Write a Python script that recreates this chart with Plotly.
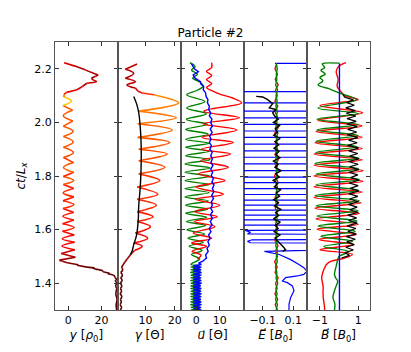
import numpy as np
import plotly.graph_objects as go
from plotly.subplots import make_subplots

# ---- panel 1: y position [rho0] vs ct/Lx
Y_T = [1.300, 1.320, 1.340, 1.360, 1.380, 1.390, 1.400, 1.410, 1.414, 1.420, 1.427, 1.435, 1.437, 1.443,
       1.447, 1.455, 1.457, 1.460, 1.467, 1.469, 1.476, 1.482, 1.486,
       1.497, 1.511, 1.525, 1.539, 1.553, 1.566, 1.580, 1.594, 1.608, 1.622, 1.636, 1.650, 1.664, 1.679,
       1.694, 1.708, 1.722, 1.737, 1.753, 1.768, 1.783, 1.798, 1.814, 1.832, 1.850, 1.869, 1.888, 1.907,
       1.927, 1.947, 1.967, 1.986, 2.005, 2.025, 2.045, 2.063, 2.080, 2.095,
       2.105, 2.112, 2.122, 2.134, 2.146, 2.152, 2.158, 2.165, 2.172, 2.177, 2.185, 2.196, 2.210, 2.223]
Y_POS = [29.2, 28.9, 29.4, 28.7, 29.3, 28.6, 29.5, 28.4, 29.6, 28.2, 27.9, 23.9, 24.8, 21.0,
         20.5, 15.1, 15.8, 11.2, 5.3, 6.0, -0.6, -3.5, -5.3,
         4.3, -4.2, 4.0, -3.8, 3.8, -3.6, 3.6, -3.5, 3.5, -3.4, 3.4, -3.3, 3.3, -3.2,
         3.4, -3.2, 3.4, -3.1, 3.3, -3.0, 3.3, -3.0, 3.3, -2.9, 3.2, -2.9, 3.1, -2.9,
         3.0, -2.9, 3.0, -3.0, 2.8, -3.0, 2.6, -3.2, 2.0, -2.6,
         -2.5, -1.0, 5.3, 8.5, 11.2, 17.0, 15.0, 14.0, 16.5, 18.0, 14.5, 10.2, 4.0, -2.5]

# ---- panel 2: gamma [Theta]
G_T = [1.300, 1.310, 1.320, 1.330, 1.340, 1.350, 1.360, 1.370, 1.380, 1.390, 1.400, 1.410, 1.420,
       1.430, 1.440, 1.450, 1.460, 1.468,
       1.478, 1.490, 1.507, 1.522, 1.538, 1.550, 1.568, 1.587, 1.611, 1.630, 1.648, 1.667, 1.691,
       1.713, 1.732, 1.759, 1.783, 1.808, 1.833, 1.857, 1.882, 1.900, 1.925, 1.944, 1.972, 1.995,
       2.017, 2.042, 2.073, 2.091, 2.103, 2.110, 2.116,
       2.128, 2.140, 2.152, 2.165, 2.183, 2.198, 2.218]
GAMMA = [1.5, 1.9, 1.4, 1.8, 1.5, 2.0, 1.4, 1.9, 1.5, 2.0, 1.4, 2.1, 1.6,
         2.2, 1.6, 2.3, 1.9, 2.4,
         3.0, 3.8, 5.0, 6.3, 8.9, 6.05, 10.8, 6.6, 11.7, 7.2, 12.6, 7.2, 13.7,
         7.2, 14.2, 7.2, 14.9, 7.75, 16.6, 7.75, 17.4, 7.75, 18.3, 7.4, 19.1, 7.4,
         20.5, 7.75, 21.35, 17.4, 12.9, 8.9, 7.5,
         6.6, 3.75, 6.6, 3.2, 6.05, 3.2, 7.2]
GAVG_T = [1.507, 1.520, 1.544, 1.570, 1.593, 1.640, 1.691, 1.750, 1.814, 1.880, 1.937, 1.990, 2.036, 2.070, 2.097]
GAVG = [4.9, 5.5, 6.05, 6.8, 7.2, 7.6, 7.75, 8.2, 8.5, 8.6, 8.5, 8.2, 7.75, 7.0, 6.05]

# ---- panel 3: four-velocity components [Theta]
DENSE_T = [1.300, 1.305, 1.310, 1.315, 1.320, 1.325, 1.330, 1.335, 1.340, 1.345, 1.350, 1.355,
           1.360, 1.365, 1.370, 1.375, 1.380, 1.385, 1.390, 1.395, 1.400, 1.405, 1.410, 1.415,
           1.420, 1.425, 1.430, 1.435, 1.440, 1.445, 1.450, 1.455, 1.460, 1.465, 1.470]
UX_T = [1.490, 1.505, 1.519, 1.538, 1.550, 1.568, 1.587, 1.611, 1.630, 1.648, 1.667, 1.691, 1.713,
        1.732, 1.759, 1.783, 1.808, 1.833, 1.857, 1.882, 1.900, 1.925, 1.944, 1.972, 1.995, 2.017,
        2.042, 2.073, 2.091, 2.103, 2.116, 2.130, 2.145, 2.160, 2.175, 2.190, 2.205, 2.223]
UX = [0.5, 2.0, -1.8, 4.4, -2.0, 6.6, -1.3, 8.0, -0.8, 9.0, -0.6, 10.1, -0.3,
      11.6, 0.0, 12.3, 1.0, 13.7, 2.0, 14.7, 2.3, 15.8, 2.6, 17.3, 3.0, 18.4,
      3.3, 19.4, 15.5, 11.0, 7.3, 4.4, 6.6, 4.4, 6.6, 4.4, 6.6, 6.6]
UY_T = DENSE_T + [1.490, 1.507, 1.522, 1.538, 1.553, 1.568, 1.584, 1.599, 1.615, 1.630, 1.646, 1.661,
                  1.676, 1.691, 1.707, 1.722, 1.738, 1.753, 1.768, 1.783, 1.799, 1.814, 1.830, 1.845,
                  1.861, 1.876, 1.892, 1.907, 1.922, 1.937, 1.956, 1.974, 1.993, 2.011, 2.032, 2.054,
                  2.078, 2.103, 2.120, 2.135, 2.150, 2.165, 2.180, 2.195, 2.208, 2.223]
UY = [-2.3, 1.5, -2.2, 1.4, -2.4, 1.5, -2.3, 1.6, -2.2, 1.4, -2.4, 1.5, -2.3, 1.5, -2.2, 1.6,
      -2.4, 1.4, -2.3, 1.5, -2.2, 1.6, -2.4, 1.5, -2.3, 1.4, -2.2, 1.5, -2.4, 1.6, -2.3, 1.5,
      -2.2, 1.4, -2.3,
      1.5, -2.0, 2.5, -3.0, 3.0, -3.5, 3.5, -4.0, 4.0, -4.2, 4.4, -4.5,
      4.8, -4.5, 5.1, -4.8, 5.5, -4.8, 5.5, -4.8, 5.9, -4.8, 5.9, -4.8,
      5.9, -4.5, 5.5, -4.5, 5.5, -4.5, 5.1, -4.5, 4.8, -4.2, 4.4, -4.1,
      3.7, -4.1, 0.5, 3.0, 1.6, -1.5, 0.5, -2.0, -0.5, -2.7]
UZ_T = DENSE_T + [1.475, 1.482, 1.494, 1.505, 1.519, 1.530, 1.542, 1.555, 1.568, 1.580, 1.592, 1.605,
                  1.618, 1.630, 1.642, 1.655, 1.668, 1.680, 1.691, 1.703, 1.716, 1.728, 1.741, 1.753,
                  1.766, 1.778, 1.790, 1.802, 1.814, 1.826, 1.839, 1.851, 1.864, 1.876, 1.888, 1.900,
                  1.913, 1.925, 1.937, 1.950, 1.962, 1.975, 1.987, 1.999, 2.012, 2.024, 2.036, 2.048,
                  2.061, 2.073, 2.085, 2.097, 2.110, 2.122, 2.134, 2.143, 2.152, 2.165, 2.177, 2.189,
                  2.200, 2.208, 2.218]
UZ = [2.2, -1.2, 2.1, -1.3, 2.3, -1.1, 2.2, -1.2, 2.0, -1.3, 2.2, -1.1, 2.3, -1.2, 2.1, -1.2,
      2.2, -1.3, 2.0, -1.1, 2.3, -1.2, 2.2, -1.3, 2.1, -1.1, 2.2, -1.2, 2.3, -1.2, 2.1, -1.3,
      2.2, -1.1, 2.2,
      1.0, 2.8, 4.4, 4.0, 5.1, 4.6, 5.6, 5.0, 5.9, 5.3, 6.3, 5.6,
      6.8, 6.0, 6.9, 6.1, 7.0, 6.2, 6.9, 6.4, 7.4, 6.6, 7.5, 6.9,
      7.6, 6.7, 7.3, 6.4, 7.0, 6.2, 7.1, 6.3, 6.9, 6.2, 6.8, 5.8,
      6.5, 5.6, 6.3, 5.7, 6.8, 6.0, 6.9, 6.2, 6.7, 5.6, 6.2, 5.3,
      5.6, 4.8, 5.0, 4.2, 4.0, 3.0, 3.2, 2.0, 1.8, -0.5, -1.3, 0.9,
      -0.8, -1.3, -2.0]

# ---- panel 4: electric field [B0]
E_T = [1.30, 1.32, 1.34, 1.36, 1.38, 1.40, 1.42, 1.44, 1.46, 1.48, 1.50, 1.52, 1.54, 1.56, 1.58, 1.60,
       1.62, 1.64, 1.66, 1.68, 1.70, 1.72, 1.74, 1.76, 1.78, 1.80, 1.82, 1.84, 1.86, 1.88, 1.90, 1.92,
       1.94, 1.96, 1.98, 2.00, 2.02, 2.04, 2.06, 2.08, 2.10, 2.12, 2.14, 2.16, 2.18, 2.20, 2.22]
EX = [-0.004, -0.018, -0.002, -0.02, -0.006, -0.016, 0.001, -0.019, -0.005, -0.022,
      -0.003, -0.017, 0.0, -0.02, -0.007, -0.015, -0.001, -0.021, -0.004, -0.018,
      0.002, -0.019, -0.006, -0.016, -0.002, -0.022, -0.005, -0.017, 0.001, -0.02,
      -0.003, -0.018, -0.006, -0.021, 0.0, -0.016, -0.004, -0.019, -0.002, -0.02,
      -0.005, -0.017, 0.001, -0.018, -0.004, -0.02, -0.008]
EY = [-0.012, -0.004, -0.016, -0.006, -0.014, -0.002, -0.013, -0.007, -0.017, -0.005,
      -0.011, -0.003, -0.015, -0.008, -0.012, -0.004, -0.016, -0.006, -0.013, -0.002,
      -0.014, -0.007, -0.011, -0.004, -0.017, -0.006, -0.012, -0.003, -0.015, -0.008,
      -0.013, -0.005, -0.011, -0.002, -0.016, -0.007, -0.012, -0.004, -0.014, -0.006,
      -0.013, -0.003, -0.015, -0.008, -0.011, -0.005, -0.012]
EZ_T = [1.300, 1.322, 1.347, 1.372, 1.390, 1.402, 1.408, 1.421, 1.427, 1.433, 1.445, 1.458, 1.470,
        1.488, 1.507, 1.519, 1.533, 1.548, 1.551, 1.556, 1.562, 1.565, 1.580, 1.584, 1.590, 1.597,
        1.599, 1.617, 1.617, 1.636, 1.636, 1.654, 1.654, 1.673, 1.673, 1.691, 1.691, 1.710, 1.710,
        1.731, 1.731, 1.753, 1.753, 1.775, 1.775, 1.796, 1.796, 1.820, 1.820, 1.845, 1.845, 1.870,
        1.870, 1.894, 1.894, 1.919, 1.919, 1.944, 1.944, 1.968, 1.968, 1.993, 1.993, 2.017, 2.017,
        2.042, 2.042, 2.073, 2.073, 2.115, 2.115, 2.220, 2.220]
EZ = [0.072, 0.072, 0.083, 0.105, 0.094, 0.061, 0.029, 0.050, 0.126, 0.169, 0.19, 0.169, 0.137,
      0.083, 0.008, -0.089, 1, 1, -0.18, -0.20, -0.17, 1, 1, -0.20, -0.18, -0.215,
      1, 1, -1, -1, 1, 1, -1, -1, 1, 1, -1,
      -1, 1, 1, -1, -1, 1, 1, -1, -1, 1, 1, -1,
      -1, 1, 1, -1, -1, 1, 1, -1, -1, 1, 1, -1,
      -1, 1, 1, -1, -1, 1, 1, -1, -1, 1, 1, -0.02]
EK_T = [1.519, 1.525, 1.535, 1.544, 1.556, 1.568, 1.580, 1.592, 1.604, 1.616, 1.628, 1.640, 1.652,
        1.664, 1.676, 1.688, 1.700, 1.712, 1.724, 1.736, 1.748, 1.760, 1.772, 1.784, 1.796, 1.808,
        1.820, 1.832, 1.844, 1.856, 1.868, 1.880, 1.892, 1.904, 1.916, 1.928, 1.940, 1.952, 1.964,
        1.976, 1.988, 2.000, 2.012, 2.024, 2.036, 2.048, 2.054, 2.070, 2.085, 2.095, 2.097]
EK = [0.03, 0.05, 0.035, 0.02,
      0.005, -0.02, 0.012, -0.025, 0.0, -0.018, 0.015, -0.03, 0.004, -0.015,
      0.018, -0.022, 0.002, -0.028, 0.01, -0.012, 0.016, -0.024, -0.002, -0.032,
      0.008, -0.016, 0.02, -0.02, 0.0, -0.03, 0.012, -0.014, 0.006, -0.026,
      0.004, -0.02, 0.014, -0.028, -0.004, -0.018, 0.01, -0.03, 0.002, -0.022,
      -0.035, -0.014, -0.057, -0.035, -0.068, -0.10, -0.143]

# ---- panel 5: magnetic field [B0]
BX_T = [1.300, 1.322, 1.347, 1.372, 1.384, 1.405, 1.421, 1.433, 1.445, 1.458, 1.470, 1.482, 1.494,
        1.508, 1.525, 1.544, 1.563, 1.582, 1.601, 1.620, 1.640, 1.660, 1.680, 1.700, 1.720, 1.740,
        1.760, 1.780, 1.800, 1.820, 1.840, 1.861, 1.882, 1.903, 1.924, 1.945, 1.966, 1.987, 2.008,
        2.036, 2.063, 2.085, 2.100, 2.115, 2.135, 2.160, 2.190, 2.210, 2.223]
BX = [-0.75, -0.78, -0.83, -0.84, -0.83, -0.88, -0.91, -0.88, -0.83, -0.75, -0.66, -0.41, 0.3,
      0.7, -1.0, 0.75, -1.05, 0.9, -1.15, 1.0, -1.2, 1.05, -1.25, 1.15, -1.3, 1.2,
      -1.3, 1.25, -1.3, 1.25, -1.3, 1.2, -1.3, 1.2, -1.25, 1.2, -1.2, 1.2, -1.1,
      1.23, -1.0, 1.0, 0.3, 0.1, -0.1, -0.05, -0.15, 0.0, 0.36]
BY_T = [1.300, 1.322, 1.347, 1.372, 1.390, 1.408, 1.420, 1.433, 1.450, 1.464, 1.488, 1.500, 1.518,
        1.537, 1.556, 1.575, 1.594, 1.613, 1.632, 1.651, 1.670, 1.689, 1.708, 1.727, 1.747, 1.767,
        1.787, 1.807, 1.827, 1.847, 1.867, 1.888, 1.909, 1.930, 1.951, 1.972, 1.992, 2.012, 2.033,
        2.054, 2.085, 2.110, 2.125, 2.140, 2.155, 2.168, 2.180, 2.195, 2.205, 2.218, 2.221]
BY = [-0.24, -0.22, -0.32, -0.24, -0.15, -0.07, -0.18, -0.24, -0.2, -0.15, -0.07, 0.0, 0.5,
      -0.8, 0.7, -0.95, 0.85, -1.1, 0.95, -1.15, 1.0, -1.2, 1.05, -1.25, 1.0, -1.2,
      1.05, -1.2, 1.0, -1.25, 1.0, -1.2, 0.95, -1.2, 1.0, -1.15, 1.0, -1.15, 1.0,
      -1.1, 0.9, 0.0, -0.5, -1.1, -0.85, -1.0, -0.72, -0.95, -0.75, -0.88, 0.02]
BZ_T = [1.300, 2.220]
BZ = [0.02, 0.02]
BK_T = [1.494, 1.504, 1.514, 1.524, 1.534, 1.544, 1.554, 1.564, 1.574, 1.584, 1.594, 1.604, 1.614,
        1.624, 1.634, 1.644, 1.654, 1.664, 1.674, 1.684, 1.694, 1.704, 1.714, 1.724, 1.734, 1.744,
        1.754, 1.764, 1.774, 1.784, 1.794, 1.804, 1.814, 1.824, 1.834, 1.844, 1.854, 1.864, 1.874,
        1.884, 1.894, 1.904, 1.914, 1.924, 1.934, 1.944, 1.954, 1.964, 1.974, 1.984, 1.994, 2.004,
        2.014, 2.024, 2.034, 2.044, 2.054, 2.064, 2.074, 2.084, 2.094, 2.104]
BK = [0.13, 0.55, 0.3, 0.75, 0.35, 0.8, 0.4, 0.85, 0.38, 0.9, 0.45, 0.88, 0.42,
      0.95, 0.5, 0.92, 0.45, 1.0, 0.55, 0.95, 0.48, 1.02, 0.55, 0.98, 0.5, 1.05,
      0.58, 1.0, 0.52, 1.05, 0.6, 0.98, 0.5, 1.03, 0.55, 1.0, 0.48, 1.05, 0.55,
      0.98, 0.5, 1.02, 0.45, 0.95, 0.5, 0.98, 0.42, 0.92, 0.45, 0.95, 0.4, 0.9,
      0.42, 0.88, 0.38, 0.85, 0.35, 0.8, 0.4, 0.75, 0.3, 0.2]

# colormap used for gamma colouring (dark red -> red -> orange -> yellow)
CM_G = [1.0, 3.0, 6.0, 9.0, 12.0, 15.0, 18.0, 21.0]
CM_R = [74, 139, 210, 255, 255, 255, 255, 255]
CM_GR = [0, 0, 0, 10, 70, 140, 205, 250]


def gcolor(g):
    return 'rgb(%d,%d,0)' % (np.interp(g, CM_G, CM_R), np.interp(g, CM_G, CM_GR))


def add_colored(fig, t, v, g, col):
    # segments sharing the same upper gamma value are drawn as one smooth run
    key = [round(max(g[i], g[i + 1]), 1) for i in range(len(t) - 1)]
    i0 = 0
    for i in range(1, len(key) + 1):
        if i == len(key) or key[i] != key[i0]:
            gs = g[i0:i + 1]
            c = gcolor(0.5 * (max(gs) + min(gs)))
            fig.add_trace(go.Scatter(x=v[i0:i + 1], y=t[i0:i + 1], mode='lines',
                                     line=dict(color=c, width=1.6, shape='spline'),
                                     showlegend=False, hoverinfo='skip'), row=1, col=col)
            i0 = i


def line(fig, t, v, color, col, width=1.4, shape='linear'):
    fig.add_trace(go.Scatter(x=v, y=t, mode='lines', line=dict(color=color, width=width, shape=shape),
                             showlegend=False, hoverinfo='skip'), row=1, col=col)


fig = make_subplots(rows=1, cols=5, shared_yaxes=True, horizontal_spacing=0)

add_colored(fig, Y_T, Y_POS, list(np.interp(Y_T, G_T, GAMMA)), 1)

add_colored(fig, G_T, GAMMA, GAMMA, 2)
line(fig, GAVG_T, GAVG, 'black', 2, shape='spline')

line(fig, UY_T, UY, '#008000', 3, shape='spline')
line(fig, UX_T, UX, '#ff0000', 3, shape='spline')
line(fig, UZ_T, UZ, '#0000ff', 3)

line(fig, EZ_T, EZ, '#0000ff', 4, width=1.2)
line(fig, E_T, EX, '#ff0000', 4)
line(fig, E_T, EY, '#008000', 4)
line(fig, EK_T, EK, 'black', 4)

line(fig, BX_T, BX, '#ff0000', 5, shape='spline')
line(fig, BY_T, BY, '#008000', 5, shape='spline')
line(fig, BK_T, BK, 'black', 5, width=1.2)
line(fig, BZ_T, BZ, '#0000ff', 5)

xcfg = [
    ([-8, 30], [0, 20], ['0', '20'], '<i>y</i> [<i>ρ</i><sub>0</sub>]'),
    ([0.7, 22.1], [10, 20], ['10', '20'], '<i>γ</i> [Θ]'),
    ([-6.5, 20.4], [0, 10], ['0', '10'], '<i>u⃗</i> [Θ]'),
    ([-0.223, 0.19], [-0.1, 0.1], ['−0.1', '0.1'], '<i>E⃗</i> [<i>B</i><sub>0</sub>]'),
    ([-1.68, 1.62], [-1, 1], ['−1', '1'], '<i>B⃗</i> [<i>B</i><sub>0</sub>]'),
]
axstyle = dict(showline=True, linecolor='#555555', linewidth=1.2, mirror='ticks', ticks='inside',
               ticklen=4, tickcolor='#333333', showgrid=False, zeroline=False,
               tickfont=dict(size=11, color='black'))
for i, (rng, tv, tt, ttl) in enumerate(xcfg, start=1):
    fig.update_xaxes(range=rng, tickvals=tv, ticktext=tt, title=dict(text=ttl, font=dict(size=12), standoff=4),
                     row=1, col=i, **axstyle)
    fig.update_yaxes(range=[1.3, 2.3], tickvals=[1.4, 1.6, 1.8, 2.0, 2.2],
                     ticktext=['1.4', '1.6', '1.8', '2.0', '2.2'], row=1, col=i, **axstyle)
fig.update_yaxes(title=dict(text='<i>ct</i>/<i>L</i><sub><i>x</i></sub>', font=dict(size=12), standoff=6),
                 row=1, col=1)

# the page body adds an 8 px margin, so the figure is 8 px smaller than the window
fig.update_layout(
    width=403, height=344, autosize=False,
    margin=dict(l=43, r=41, t=34, b=39),
    title=dict(text='Particle #2', x=0.5025, xanchor='center', y=0.927, yanchor='middle',
               font=dict(size=12, color='black')),
    font=dict(family='DejaVu Sans', color='black'),
    plot_bgcolor='white', paper_bgcolor='white',
)

fig.write_html("out.html")
